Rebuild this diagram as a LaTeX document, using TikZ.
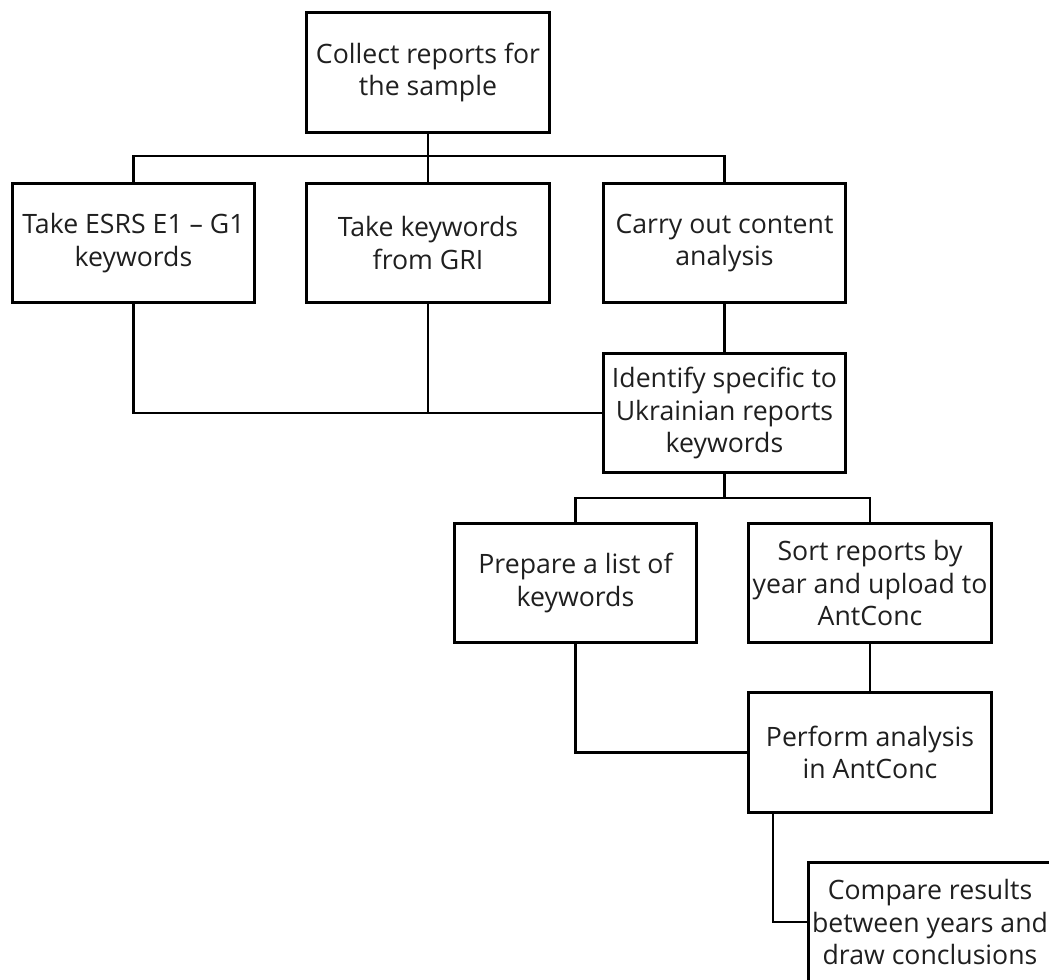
\documentclass[tikz,border=0pt]{standalone}
\usepackage{fontspec}
\setmainfont{Open Sans}
\begin{document}
\begin{tikzpicture}[x=0.75pt,y=-0.75pt,
  stepbox/.style={draw=black, line width=2.2pt, minimum width=182pt, minimum height=89.5pt,
    inner sep=0pt, align=center, text=black!88,
    font=\fontsize{20}{24.5}\selectfont},
  link/.style={draw=black, line width=2.2pt}]
\useasboundingbox (0,0) rectangle (1049,979);
\clip (0,0) rectangle (1049,979);
% boxes
\node[stepbox] (collect)  at (428,72.5)   {Collect reports for\\the sample};
\node[stepbox] (esrs)     at (133.5,243)  {Take ESRS E1 -- G1\\keywords};
\node[stepbox] (gri)      at (428,243)    {Take keywords\\from GRI};
\node[stepbox] (content)  at (724.5,243)  {Carry out content\\analysis};
\node[stepbox] (identify) at (724.5,413)  {Identify specific to\\Ukrainian reports\\keywords};
\node[stepbox] (prepare)  at (575.5,583)  {Prepare a list of\\keywords};
\node[stepbox] (sort)     at (870,583)    {Sort reports by\\year and upload to\\AntConc};
\node[stepbox] (perform)  at (870,752.5)  {Perform analysis\\in AntConc};
\node[stepbox] (compare)  at (930,922)    {Compare results\\between years and\\draw conclusions};
% bus below the first step
\coordinate (busA) at (428,156);
\draw[link] (collect.south) -- (busA);
\draw[link] (esrs.north) |- (busA) -| (content.north);
\draw[link] (busA) -- (gri.north);
% keyword sources joining the identification step
\draw[link] (esrs.south) |- (identify.west);
\draw[link] (gri.south) -- (gri.south |- identify.west);
\draw[link] (content.south) -- (identify.north);
% second split
\coordinate (busB) at (724.5,498);
\draw[link] (identify.south) -- (busB);
\draw[link] (prepare.north) |- (busB) -| (sort.north);
% analysis
\draw[link] (prepare.south) |- (perform.west);
\draw[link] (sort.south) -- (perform.north);
\coordinate (drop) at (773,0);
\draw[link] (perform.south -| drop) |- (compare.west);
\end{tikzpicture}
\end{document}
